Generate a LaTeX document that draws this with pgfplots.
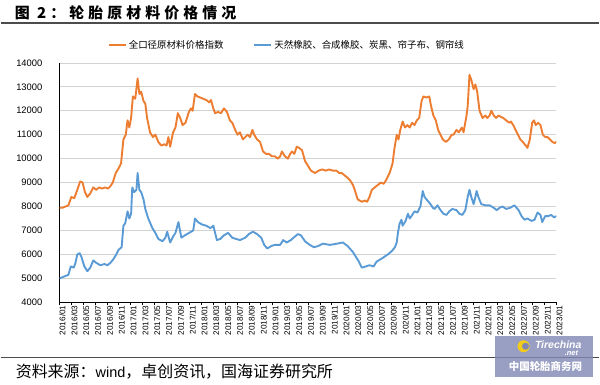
\documentclass[border=0pt]{standalone}
\usepackage{pgfplots}
\pgfplotsset{compat=1.18}
\usepackage{fontspec}
\setmainfont{Liberation Sans}
\newfontfamily\cjk{Noto Sans CJK SC}
\definecolor{orng}{HTML}{ED7D31}
\definecolor{blu}{HTML}{5B9BD5}
\definecolor{wm}{RGB}{128,134,180}
\begin{document}
\begin{tikzpicture}
\path (0pt,0pt) rectangle (600pt,385pt);
\node[anchor=west, inner sep=0] at (14pt,372pt) {\cjk\fontsize{15}{17}\selectfont\bfseries\addfontfeature{LetterSpace=27}图 2：轮胎原材料价格情况};
\draw[line width=1.3pt, black!70] (0pt,362pt) -- (600pt,362pt);
\draw[line width=1.3pt, black!70] (0pt,27pt) -- (600pt,27pt);
\node[anchor=west, inner sep=0] at (15pt,13pt) {\cjk\fontsize{16}{18}\selectfont 资料来源：{\rmfamily\fontsize{14.5}{16}\selectfont wind}，卓创资讯，国海证券研究所};
\begin{axis}[
  at={(59pt,82pt)}, anchor=south west,
  scale only axis, width=498pt, height=240pt,
  xmin=0, xmax=84, ymin=4000, ymax=14000,
  axis x line*=bottom, axis y line*=left,
  axis line style={-, black, line width=0.8pt},
  ytick={4000,5000,...,14000},
  ymajorgrids, grid style={gray!35, line width=0.7pt},
  ytick style={draw=none},
  xtick={0,2,...,84},
  xticklabels={2016/01,2016/03,2016/05,2016/07,2016/09,2016/11,2017/01,2017/03,2017/05,2017/07,2017/09,2017/11,2018/01,2018/03,2018/05,2018/07,2018/09,2018/11,2019/01,2019/03,2019/05,2019/07,2019/09,2019/11,2020/01,2020/03,2020/05,2020/07,2020/09,2020/11,2021/01,2021/03,2021/05,2021/07,2021/09,2021/11,2022/01,2022/03,2022/05,2022/07,2022/09,2022/11,2023/01},
  tick align=outside, major tick length=3pt,
  xtick style={black, line width=0.6pt},
  x tick label style={rotate=90, anchor=east, font=\fontsize{8.2}{9}\selectfont, inner sep=0pt, yshift=-3pt},
  y tick label style={anchor=east, font=\fontsize{9.4}{11}\selectfont, inner sep=0pt, xshift=-14pt},
  /pgf/number format/assume math mode=true,
  /pgf/number format/1000 sep={},
  scaled y ticks=false,
  legend columns=2,
  legend style={draw=none, fill=none, at={(0.097,1.075)}, anchor=west, inner sep=0pt,
    font=\cjk\fontsize{9.5}{11}\selectfont, /tikz/every even column/.append style={column sep=28pt}},
  legend image code/.code={\draw[#1] (0pt,0pt) -- (17pt,0pt);},
]
\addplot[orng, line width=1.9pt, line join=round] coordinates {
(0,7950)(0.5,7950)(1.0,8000)(1.5,8050)(2.0,8400)(2.5,8350)(3.0,8700)(3.5,9050)(3.9,9000)(4.3,8600)
(4.7,8400)(5.2,8550)(5.7,8800)(6.2,8700)(6.7,8800)(7.2,8750)(7.7,8800)(8.2,8750)(8.6,8850)(9.0,9000)
(9.5,9400)(10.0,9600)(10.4,9800)(10.8,10800)(11.2,11000)(11.5,11600)(11.8,11300)(12.1,11700)(12.4,12600)(12.8,12500)
(13.2,13350)(13.5,12700)(13.8,12800)(14.2,12400)(14.5,12300)(14.8,11700)(15.3,11100)(15.8,10900)(16.2,11000)(16.7,10700)
(17.2,10550)(17.7,10600)(18.1,10550)(18.4,10900)(18.7,10500)(19.2,11100)(19.6,11300)(20.0,11900)(20.4,11700)(20.8,11400)
(21.3,11500)(21.8,11900)(22.2,12100)(22.5,12000)(22.9,12700)(23.3,12600)(23.8,12550)(24.3,12500)(24.8,12450)(25.3,12350)
(25.6,12450)(26.0,12100)(26.3,11900)(26.8,11950)(27.3,11900)(27.8,12100)(28.3,11950)(28.8,11600)(29.2,11500)(29.7,11200)
(30.1,11000)(30.5,11100)(31.0,10800)(31.4,10900)(31.8,11000)(32.2,10900)(32.6,11200)(32.9,11000)(33.4,10800)(33.9,10700)
(34.4,10300)(34.9,10200)(35.4,10200)(35.9,10100)(36.4,10100)(36.9,10000)(37.3,10100)(37.6,10300)(38.1,10100)(38.6,10000)
(39.0,10200)(39.3,10300)(39.7,10200)(40.1,10500)(40.5,10450)(41.0,10350)(41.5,9900)(42.0,9700)(42.5,9500)(43.2,9400)
(43.8,9500)(44.4,9550)(45.0,9500)(45.6,9550)(46.2,9500)(46.8,9500)(47.3,9400)(47.7,9400)(48.2,9300)(48.7,9200)
(49.1,9100)(49.6,8900)(49.9,8700)(50.4,8300)(51.1,8200)(51.6,8250)(52.0,8200)(52.4,8400)(52.8,8700)(53.3,8800)
(53.8,8900)(54.3,9000)(54.8,8950)(55.2,9100)(55.8,9400)(56.3,9800)(56.6,10400)(57.0,11000)(57.3,10800)(57.6,11200)
(58.0,11550)(58.4,11300)(58.8,11400)(59.2,11300)(59.6,11500)(60.0,11400)(60.4,11600)(60.8,11700)(61.2,12400)(61.5,12600)
(62.0,12550)(62.5,12600)(62.8,12200)(63.2,11800)(63.6,11600)(64.0,11200)(64.4,11000)(64.8,10800)(65.3,10700)(65.8,10800)
(66.3,11000)(66.6,11000)(67.1,11200)(67.5,11100)(68.0,11300)(68.3,11100)(68.8,11800)(69.0,12200)(69.3,13500)(69.6,13300)
(70.0,12900)(70.3,13100)(70.6,12800)(71.0,12000)(71.5,11700)(72.0,11800)(72.3,11700)(72.7,11800)(73.0,12000)(73.4,11800)
(73.8,11700)(74.2,11800)(74.6,11750)(75.0,11700)(75.5,11600)(76.0,11500)(76.3,11550)(76.7,11400)(77.1,11200)(77.5,11000)
(77.9,10800)(78.3,10700)(78.8,10550)(79.1,10450)(79.5,10800)(79.9,11500)(80.2,11600)(80.5,11400)(80.9,11500)(81.3,11400)
(81.7,11000)(82.1,10900)(82.5,10900)(82.9,10800)(83.3,10700)(83.7,10650)(84.0,10700)
};
\addlegendentry{全口径原材料价格指数}
\addplot[blu, line width=1.9pt, line join=round] coordinates {
(0,5000)(0.5,5050)(1.0,5100)(1.5,5150)(1.9,5500)(2.4,5450)(2.7,5650)(3.0,6000)(3.4,6050)(3.7,5900)
(4.2,5500)(4.7,5300)(5.2,5450)(5.7,5750)(6.2,5650)(6.9,5550)(7.6,5600)(8.1,5550)(8.6,5650)(9.1,5800)
(9.6,6000)(10.0,6200)(10.5,6300)(10.8,7200)(11.1,7300)(11.5,7800)(11.8,7500)(12.1,7700)(12.3,8800)(12.6,8600)
(13.0,8700)(13.2,9400)(13.5,8700)(13.8,8600)(14.2,8300)(14.5,7900)(15.0,7500)(15.7,7100)(16.2,6900)(16.7,6650)
(17.4,6550)(17.9,6700)(18.2,6950)(18.7,6500)(19.2,6750)(19.6,6900)(20.1,7350)(20.6,6700)(21.2,6800)(21.9,6900)
(22.6,7000)(22.9,7500)(23.4,7350)(24.1,7250)(24.8,7200)(25.5,7100)(26.0,7200)(26.6,6600)(27.2,6650)(27.8,6800)
(28.5,6900)(29.2,6700)(29.8,6650)(30.5,6600)(31.4,6700)(32.0,6850)(32.7,6950)(33.4,6850)(34.1,6700)(34.6,6400)
(35.1,6250)(35.8,6350)(36.4,6400)(37.3,6400)(37.8,6600)(38.4,6500)(39.1,6600)(39.8,6750)(40.3,6850)(40.8,6800)
(41.5,6550)(42.3,6400)(43.0,6300)(43.7,6350)(44.5,6450)(45.7,6400)(46.9,6450)(47.9,6500)(48.7,6350)(49.6,6100)
(50.1,5900)(50.6,5700)(51.1,5450)(51.8,5500)(52.4,5550)(53.1,5500)(53.6,5700)(54.6,5850)(55.5,6000)(56.2,6150)
(56.7,6300)(57.0,6500)(57.2,6900)(57.5,7300)(57.8,7450)(58.0,7200)(58.5,7400)(58.9,7700)(59.2,7500)(59.5,7600)
(60.0,7800)(60.5,7750)(61.0,8000)(61.4,8650)(61.7,8400)(62.2,8250)(62.7,8100)(63.1,7950)(63.4,7900)(63.9,8050)
(64.4,7850)(64.9,7700)(65.4,7650)(65.9,7800)(66.4,7900)(67.1,7850)(67.6,7700)(68.1,7650)(68.6,7850)(69.0,8400)
(69.3,8700)(69.6,8400)(70.0,8100)(70.3,8400)(70.5,8650)(70.8,8400)(71.3,8100)(72.0,8050)(72.7,8050)(73.4,7950)
(73.9,7850)(74.4,7950)(74.9,8000)(75.5,7900)(76.2,7950)(76.9,8050)(77.6,7850)(78.1,7600)(78.6,7450)(79.1,7500)
(79.8,7400)(80.3,7450)(80.8,7750)(81.3,7650)(81.6,7350)(82.1,7600)(82.6,7600)(83.1,7650)(83.6,7550)(84.0,7600)
};
\addlegendentry{天然橡胶、合成橡胶、炭黑、帘子布、钢帘线}
\end{axis}
\fill[wm, opacity=0.8] (495pt,7pt) rectangle (594pt,48pt);
\fill[yellow!70!orange, opacity=0.9] (524pt,38pt) circle (6pt);
\fill[wm] (526pt,38pt) circle (3.5pt);
\node[white, font=\bfseries\itshape\fontsize{10.5}{11}\selectfont, anchor=west] at (532pt,39pt) {Tirechina};
\node[white, font=\bfseries\itshape\fontsize{7.5}{8}\selectfont] at (572pt,31pt) {.net};
\node[white, font=\cjk\bfseries\fontsize{10.5}{12}\selectfont] at (546pt,18pt) {中国轮胎商务网};
\end{tikzpicture}
\end{document}
